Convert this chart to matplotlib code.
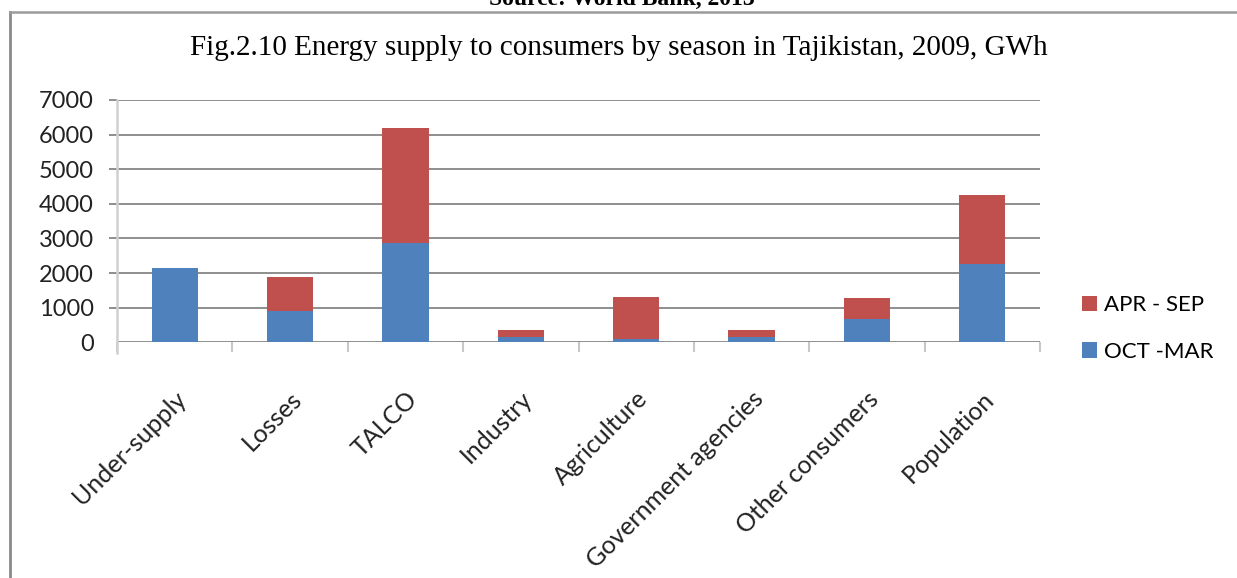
import matplotlib
matplotlib.use('Agg')
import matplotlib.pyplot as plt
import matplotlib.transforms as mtransforms
import numpy as np
from matplotlib.lines import Line2D

categories = ['Under-supply', 'Losses', 'TALCO', 'Industry', 'Agriculture',
              'Government agencies', 'Other consumers', 'Population']
oct_mar = [2160, 890, 2880, 165, 100, 165, 670, 2270]
apr_sep = [0, 990, 3320, 180, 1220, 180, 600, 1990]

blue = '#4F81BD'
red = '#C0504D'

fig = plt.figure(figsize=(12.37, 5.78), dpi=100)
ax = fig.add_axes([117 / 1237, 1 - 342.3 / 578, (1040 - 117) / 1237, 242.3 / 578])

x = np.arange(len(categories))
ax.bar(x, oct_mar, width=0.4, color=blue, label='OCT -MAR', zorder=3)
ax.bar(x, apr_sep, width=0.4, bottom=oct_mar, color=red, label='APR - SEP', zorder=3)

ax.set_xlim(-0.5, len(categories) - 0.5)
ax.set_ylim(0, 7000)
ax.set_yticks(range(0, 7001, 1000))
ax.yaxis.grid(True, color='#868686', linewidth=1.3, zorder=0)
ax.set_axisbelow(True)

for s in ['top', 'right', 'bottom']:
    ax.spines[s].set_visible(False)
ax.spines['left'].set_color('#d0d0d0')
ax.spines['left'].set_linewidth(1.8)
ax.spines['left'].set_bounds(-300, 7000)

ax.tick_params(axis='y', direction='out', length=5.8, width=1.3, color='#868686',
               pad=11, labelsize=17, labelcolor='#222222')
ax.yaxis.get_major_ticks()[0].tick1line.set_visible(False)
for lab in ax.get_yticklabels():
    lab.set_family('Lato')

# category boundary marks
ax.set_xticks(np.arange(-0.5, len(categories), 1.0), minor=True)
ax.tick_params(axis='x', which='minor', direction='out', length=7, width=1.5, color='#c8c8c8')
ax.set_xticks(x)
ax.set_xticklabels(categories, rotation=45, ha='right', va='center',
                   rotation_mode='anchor', family='Lato', fontsize=18, color='#222222')
ax.tick_params(axis='x', which='major', length=0, pad=38)
offset = mtransforms.ScaledTranslation(8 / 100, 0, fig.dpi_scale_trans)
for lab in ax.get_xticklabels():
    lab.set_transform(lab.get_transform() + offset)

handles, labels = ax.get_legend_handles_labels()
fig.legend(handles[::-1], labels[::-1], loc='center left',
           bbox_to_anchor=(1082 / 1237, 1 - 328.5 / 578), frameon=False,
           prop={'family': 'Lato', 'size': 16}, borderpad=0, borderaxespad=0,
           handlelength=0.68, handleheight=0.68, handletextpad=0.3, labelspacing=1.2)

fig.text(0.5, 1 - 55 / 578, 'Fig.2.10 Energy supply to consumers by season in Tajikistan, 2009, GWh',
         ha='center', va='baseline', family='Liberation Serif', fontsize=21)
fig.text(0.503, 1 - 5 / 578, 'Source: World Bank, 2013', ha='center', va='baseline',
         family='Liberation Serif', fontweight='bold', fontsize=17)

# frame around chart
fig.add_artist(Line2D([10 / 1237, 10 / 1237], [0, 1 - 12 / 578], color='#8a8a8a', linewidth=2))
fig.add_artist(Line2D([10 / 1237, 1], [1 - 12 / 578, 1 - 12 / 578], color='#9a9a9a', linewidth=1.8))

fig.savefig('out.png', dpi=100)
